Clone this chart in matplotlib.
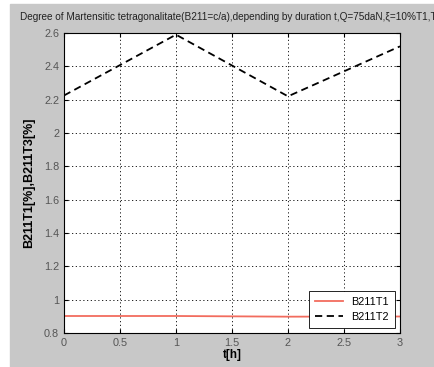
import matplotlib
matplotlib.use("Agg")
import matplotlib.pyplot as plt
from matplotlib.patches import Rectangle

plt.rcParams['font.family'] = ['Liberation Sans', 'DejaVu Sans']

t = [0, 1, 2, 3]
b211t1 = [0.902, 0.902, 0.898, 0.899]
b211t2 = [2.225, 2.59, 2.22, 2.52]
xticks = [0, 0.5, 1, 1.5, 2, 2.5, 3]
yticks = [0.8, 1, 1.2, 1.4, 1.6, 1.8, 2, 2.2, 2.4, 2.6]

W, H = 435, 367
fig = plt.figure(figsize=(W / 100, H / 100), dpi=100, facecolor='white')
# grey panel like the matlab figure window
fig.patches.append(Rectangle((10 / W, 0), 1 - 10 / W, 1 - 4 / H,
                             transform=fig.transFigure, color='#c8c8c8', zorder=-1))

ax = fig.add_axes([64 / W, 1 - 333 / H, 336 / W, 300 / H])
ax.plot(t, b211t1, color='#f26c5e', lw=1.3, label='B211T1')
ax.plot(t, b211t2, color='black', lw=1.3, ls=(0, (4, 2.5)), label='B211T2')

ax.set_xlim(0, 3)
ax.set_ylim(0.8, 2.6)
ax.set_xticks(xticks)
ax.set_xticklabels([f'{v:g}' for v in xticks])
ax.set_yticks(yticks)
ax.set_yticklabels([f'{v:g}' for v in yticks])
ax.tick_params(direction='in', length=3, labelsize=7.8, labelcolor='#555555',
               top=True, right=True)
ax.grid(True, color='black', ls=(0, (1.5, 3)), lw=0.6)

ax.set_xlabel('t[h]', fontsize=8.5, fontweight='bold', labelpad=1)
ax.set_ylabel('B211T1[%],B211T3[%]', fontsize=9, fontweight='bold', labelpad=6)
# the title runs past the right edge, as in the original window
fig.text(20 / W, 1 - 17 / H,
         'Degree of Martensitic tetragonalitate(B211=c/a),depending by duration t,Q=75daN,ξ=10%T1,T2',
         fontsize=7.2, color='#222222', va='center', ha='left')

leg = ax.legend(loc='lower right', fontsize=7.8, fancybox=False, framealpha=1,
                edgecolor='black', borderpad=0.5, handlelength=2.6,
                bbox_to_anchor=(1.0, 0.0))
leg.get_frame().set_linewidth(0.6)

fig.savefig('out.png', dpi=100, facecolor=fig.get_facecolor())
